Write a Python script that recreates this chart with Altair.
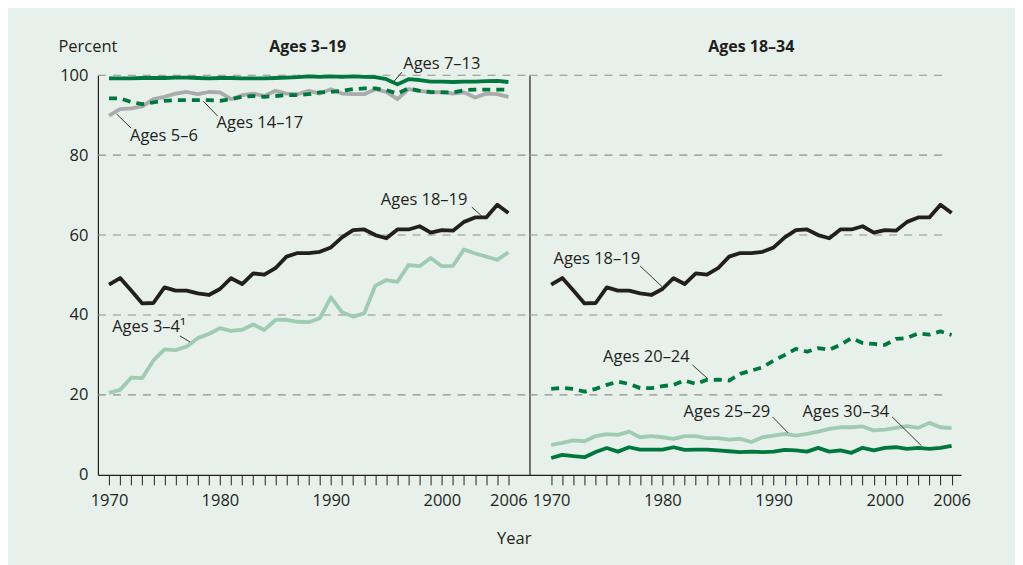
import altair as alt
import pandas as pd

years = list(range(1970, 2007))

ages_3_4 = [20.5, 21.25, 24.3, 24.2, 28.6, 31.4, 31.2, 32.1, 34.2, 35.25, 36.7, 36.0, 36.3, 37.6,
            36.25, 38.75, 38.8, 38.3, 38.2, 39.2, 44.4, 40.7, 39.6, 40.4, 47.3, 48.75, 48.3, 52.5,
            52.2, 54.25, 52.2, 52.3, 56.4, 55.4, 54.6, 53.8, 55.7]
ages_5_6 = [89.9, 91.5, 91.7, 92.2, 94.0, 94.6, 95.4, 95.8, 95.25, 95.8, 95.7, 94.0, 95.0, 95.4,
            94.8, 96.1, 95.4, 95.25, 96.1, 95.4, 96.5, 95.4, 95.25, 95.25, 96.5, 95.8, 94.0, 96.5,
            96.1, 95.7, 95.8, 95.4, 95.7, 94.4, 95.4, 95.25, 94.6]
ages_7_13 = [99.2, 99.2, 99.2, 99.3, 99.3, 99.3, 99.4, 99.4, 99.3, 99.2, 99.3, 99.3, 99.2, 99.2,
             99.2, 99.3, 99.4, 99.5, 99.7, 99.6, 99.7, 99.6, 99.7, 99.6, 99.5, 99.0, 97.7, 99.0,
             98.8, 98.4, 98.4, 98.3, 98.4, 98.4, 98.5, 98.6, 98.3]
ages_14_17 = [94.2, 94.2, 93.3, 92.75, 93.2, 93.6, 93.75, 93.75, 93.75, 93.75, 93.6, 94.0, 94.6,
              94.8, 94.6, 94.8, 95.0, 95.0, 95.25, 95.7, 95.8, 96.1, 96.5, 96.7, 96.7, 96.25, 95.4,
              96.7, 96.1, 95.8, 95.7, 95.7, 96.25, 96.4, 96.4, 96.4, 96.4]
ages_18_19 = [47.6, 49.25, 46.1, 42.9, 43.0, 46.9, 46.1, 46.1, 45.4, 45.0, 46.5, 49.2, 47.75, 50.4,
              50.1, 51.7, 54.6, 55.5, 55.5, 55.8, 56.9, 59.4, 61.25, 61.4, 60.0, 59.2, 61.4, 61.4,
              62.2, 60.6, 61.25, 61.1, 63.3, 64.4, 64.4, 67.6, 65.5]
ages_20_24 = [21.5, 21.75, 21.5, 20.8, 21.5, 22.5, 23.3, 22.75, 21.7, 21.7, 22.2, 22.5, 23.6, 22.75,
              23.75, 23.8, 23.6, 25.25, 26.1, 26.9, 28.6, 30.0, 31.5, 30.8, 31.7, 31.3, 32.5, 34.2,
              33.0, 32.75, 32.5, 34.0, 34.25, 35.4, 35.1, 35.9, 35.0]
ages_25_29 = [7.5, 8.0, 8.6, 8.4, 9.7, 10.2, 10.0, 10.8, 9.4, 9.7, 9.4, 9.0, 9.7, 9.7, 9.2, 9.2,
              8.8, 9.0, 8.2, 9.4, 9.8, 10.25, 9.8, 10.25, 10.8, 11.5, 11.9, 11.9, 12.1, 11.1, 11.3,
              11.75, 12.2, 11.75, 13.0, 11.9, 11.7]
ages_30_34 = [4.2, 5.0, 4.7, 4.4, 5.7, 6.7, 5.8, 6.9, 6.3, 6.3, 6.3, 6.9, 6.25, 6.3, 6.3, 6.1, 5.9,
              5.7, 5.8, 5.7, 5.8, 6.25, 6.1, 5.8, 6.75, 5.8, 6.1, 5.5, 6.75, 6.1, 6.75, 6.9, 6.5,
              6.75, 6.5, 6.75, 7.25]

grid_values = [20, 40, 60, 80, 100]
tick_years = years
label_years = [1970, 1980, 1990, 2000, 2006]

DARK = "#00773d"
LIGHT = "#9fcbb2"
GRAY = "#a9abad"
BLACK = "#231f20"
BG = "#e7f0eb"
FONT = "Open Sans"
FS = 16.5

left_series = [
    ("Ages 3–4", ages_3_4, LIGHT, []),
    ("Ages 5–6", ages_5_6, GRAY, []),
    ("Ages 14–17", ages_14_17, DARK, [8, 6]),
    ("Ages 7–13", ages_7_13, DARK, []),
    ("Ages 18–19", ages_18_19, BLACK, []),
]
right_series = [
    ("Ages 25–29", ages_25_29, LIGHT, []),
    ("Ages 30–34", ages_30_34, DARK, []),
    ("Ages 20–24", ages_20_24, DARK, [8, 6]),
    ("Ages 18–19", ages_18_19, BLACK, []),
]

# annotation labels: (text, year, value)
left_labels = [
    ("Ages 7–13", 2000.0, 102.75),
    ("Ages 5–6", 1974.95, 84.75),
    ("Ages 14–17", 1983.6, 88.0),
    ("Ages 18–19", 1998.4, 68.75),
    ("Ages 3–4¹", 1973.6, 37.0),
]
left_leaders = [
    (1996.4, 100.75, 1995.7, 98.5),
    (1970.7, 90.25, 1972.0, 86.75),
    (1978.5, 93.5, 1979.8, 89.75),
    (2002.7, 67.0, 2003.6, 64.75),
    (1976.4, 34.75, 1977.3, 33.25),
]
right_labels = [
    ("Ages 18–19", 1974.1, 54.0),
    ("Ages 20–24", 1978.56, 29.5),
    ("Ages 25–29", 1985.8, 15.75),
    ("Ages 30–34", 1996.5, 15.75),
]
right_leaders = [
    (1978.0, 52.25, 1980.0, 47.0),
    (1982.7, 27.5, 1984.0, 24.25),
    (1989.9, 14.5, 1991.3, 10.5),
    (2000.65, 14.5, 2003.3, 7.25),
]


def panel(series, labels, leaders, domain, show_y, title, title_x, grid_width):
    xs = alt.Scale(domain=domain, nice=False, zero=False)
    ys = alt.Scale(domain=[0, 100], nice=False)
    xaxis = alt.Axis(values=tick_years, format="d", title=None, grid=False,
                     labelExpr="indexof([" + ",".join(str(v) for v in label_years) + "], datum.value) >= 0 ? datum.label : ''",
                     tickSize=10, tickColor=BLACK, domainColor=BLACK, domainWidth=1.2,
                     labelFont=FONT, labelFontSize=FS, labelColor=BLACK, labelPadding=8,
                     labelFlush=False, labelOverlap=False)
    if show_y:
        yaxis = alt.Axis(values=[0, 20, 40, 60, 80, 100], grid=False, ticks=False,
                         domainColor=BLACK, domainWidth=1.2,
                         labelFont=FONT, labelFontSize=FS, labelColor=BLACK, labelPadding=10,
                         title="Percent", titleAngle=0, titleAlign="left", titleBaseline="alphabetic",
                         titleX=-40, titleY=-24, titleFont=FONT, titleFontSize=FS,
                         titleFontWeight="normal", titleColor=BLACK)
    else:
        yaxis = alt.Axis(values=[0, 20, 40, 60, 80, 100], grid=False, ticks=False, labels=False,
                         domainColor=BLACK, domainWidth=1.2, title=None)

    grid = alt.Chart(pd.DataFrame({"g": grid_values})).mark_rule(
        color="#8f8f8f", strokeDash=[8, 7], strokeWidth=1.1
    ).encode(y=alt.Y("g:Q", scale=ys, axis=yaxis), x=alt.value(0), x2=alt.value(grid_width))

    layers = [grid]
    for name, vals, color, dash in series:
        df = pd.DataFrame({"year": years, "value": vals})
        kw = dict(color=color, strokeWidth=3.8, strokeJoin="round", strokeCap="butt")
        if dash:
            kw["strokeDash"] = dash
        layers.append(alt.Chart(df).mark_line(**kw).encode(
            x=alt.X("year:Q", scale=xs, axis=xaxis),
            y=alt.Y("value:Q", scale=ys, axis=yaxis),
        ))

    ldf = pd.DataFrame([{"x": a, "y": b, "x2": c, "y2": d} for a, b, c, d in leaders])
    layers.append(alt.Chart(ldf).mark_rule(color=BLACK, strokeWidth=0.9).encode(
        x=alt.X("x:Q", scale=xs, axis=xaxis), y=alt.Y("y:Q", scale=ys, axis=yaxis),
        x2="x2:Q", y2="y2:Q"))

    tdf = pd.DataFrame([{"t": t, "x": x, "y": y} for t, x, y in labels])
    layers.append(alt.Chart(tdf).mark_text(font=FONT, fontSize=FS, color=BLACK,
                                           align="center", baseline="middle").encode(
        x=alt.X("x:Q", scale=xs, axis=xaxis), y=alt.Y("y:Q", scale=ys, axis=yaxis), text="t:N"))

    hdf = pd.DataFrame({"t": [title]})
    layers.append(alt.Chart(hdf).mark_text(font=FONT, fontSize=16, fontWeight="bold", color=BLACK,
                                           align="center", baseline="middle").encode(
        x=alt.value(title_x), y=alt.value(-28), text="t:N"))

    return alt.layer(*layers).properties(width=432, height=400)


left = panel(left_series, left_labels, left_leaders, [1969.0, 2007.9], True, "Ages 3–19", 210, 432)
right = panel(right_series, right_labels, right_leaders, [1968.05, 2006.85], False, "Ages 18–34", 222, 418)

chart = alt.hconcat(left, right, spacing=0, bounds="flush").properties(
    title=alt.TitleParams("Year", orient="bottom", anchor="middle", font=FONT, fontSize=FS,
                          fontWeight="normal", color=BLACK, offset=22),
    padding={"left": 50, "top": 30, "right": 44, "bottom": 20},
).configure(background=BG).configure_view(stroke=None)

chart.save("out.html", embed_options={"renderer": "svg", "actions": False})
